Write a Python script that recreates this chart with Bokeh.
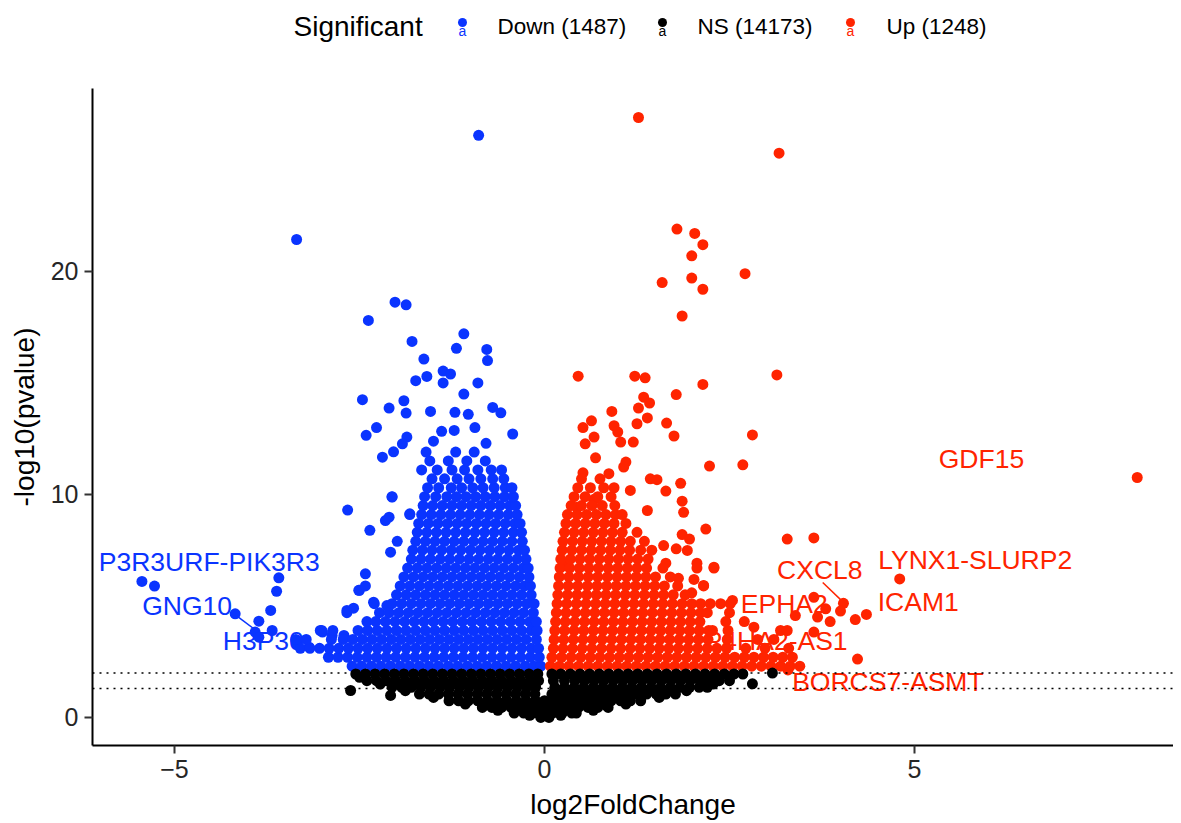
from bokeh.plotting import figure
from bokeh.layouts import column
from bokeh.models import FixedTicker, Range1d, Span
from bokeh.core.properties import value
from bokeh.embed import file_html
from bokeh.resources import INLINE

FONT = "Liberation Sans"
BLUE = "#0A34FF"
RED = "#FF2400"
BLACK = "#000000"

# ---------------- data ----------------
groups = ["Down", "NS", "Up"]
group_counts = [1487, 14173, 1248]
group_colors = [BLUE, BLACK, RED]

thresholds = [1.30103, 2.0]

x_ticks = [-5, 0, 5]
y_ticks = [0, 10, 20]

# isolated "Down" genes
down_sparse_x = [-0.89, -3.35, -2.02, -1.87, -2.38, -1.09, -1.79, -1.19, -0.78, -0.77, -1.63, -1.37,
                 -1.27, -1.59, -1.74, -1.37, -0.90, -1.09, -2.46, -1.90, -2.10, -1.87, -1.54, -1.21,
                 -1.03, -0.70, -0.59, -2.27, -2.41, -0.94, -1.22, -1.39, -1.86, -0.43, -0.79, -1.92,
                 -1.50, -2.19, -2.04, -2.66, -2.36, -2.06, -2.10, -1.82, -2.42, -2.50, -2.67, -3.03,
                 -5.44, -5.27, -3.59, -3.62, -3.70, -4.18, -3.86, -3.91, -3.68, -3.86, -3.34, -3.18,
                 -3.00, -2.87, -2.71, -2.58, -2.51, -2.31, -2.13, -2.08, -2.15]
down_sparse_y = [26.1, 21.43, 18.62, 18.5, 17.8, 17.2, 16.86, 16.55, 16.5, 16.0, 16.07, 15.53,
                 15.4, 15.29, 15.1, 15.0, 15.0, 14.5, 14.25, 14.2, 13.87, 13.65, 13.72, 13.68,
                 13.59, 13.9, 13.66, 13.0, 12.65, 13.0, 12.87, 12.83, 12.57, 12.71, 12.29, 12.27,
                 12.39, 11.67, 11.91, 9.3, 8.39, 9.88, 8.98, 9.13, 6.44, 5.7, 4.8, 3.9,
                 6.1, 5.89, 6.26, 5.66, 4.8, 4.65, 4.32, 3.83, 3.9, 3.6, 3.3, 3.15,
                 3.83, 3.68, 3.68, 4.9, 5.7, 5.17, 5.02, 7.41, 8.83]

# dense "Down" cloud, one row per -log10(p) level
down_rows = [
    (2.3, [-2.60, -2.47, -2.34, -2.21, -2.08, -1.95, -1.82, -1.69, -1.56, -1.43, -1.30, -1.17, -1.04, -0.91, -0.78, -0.65, -0.52, -0.39, -0.26, -0.14, -0.05]),
    (2.7, [-2.92, -2.79, -2.66, -2.53, -2.40, -2.27, -2.14, -2.01, -1.88, -1.75, -1.62, -1.49, -1.36, -1.23, -1.10, -0.97, -0.84, -0.71, -0.58, -0.45, -0.32, -0.19, -0.07]),
    (3.1, [-3.30, -3.17, -3.04, -2.91, -2.78, -2.65, -2.52, -2.39, -2.26, -2.13, -2.00, -1.87, -1.74, -1.61, -1.48, -1.35, -1.22, -1.09, -0.96, -0.83, -0.70, -0.57, -0.44, -0.31, -0.18, -0.08]),
    (3.5, [-3.36, -3.22, -2.88, -2.72, -2.59, -2.46, -2.33, -2.20, -2.07, -1.94, -1.81, -1.68, -1.55, -1.42, -1.29, -1.16, -1.03, -0.90, -0.77, -0.64, -0.51, -0.38, -0.25, -0.11]),
    (3.9, [-3.01, -2.86, -2.52, -2.39, -2.26, -2.13, -2.00, -1.87, -1.74, -1.61, -1.48, -1.35, -1.22, -1.09, -0.96, -0.83, -0.70, -0.57, -0.44, -0.31, -0.18, -0.10]),
    (4.3, [-2.40, -2.28, -2.15, -2.02, -1.89, -1.76, -1.63, -1.50, -1.37, -1.24, -1.11, -0.98, -0.85, -0.72, -0.59, -0.46, -0.33, -0.20, -0.11]),
    (4.7, [-2.67, -2.23, -2.10, -1.97, -1.84, -1.71, -1.58, -1.45, -1.32, -1.19, -1.06, -0.93, -0.80, -0.67, -0.54, -0.41, -0.28, -0.15]),
    (5.1, [-2.30, -2.06, -1.93, -1.80, -1.67, -1.54, -1.41, -1.28, -1.15, -1.02, -0.89, -0.76, -0.63, -0.50, -0.37, -0.24, -0.14]),
    (5.5, [-2.00, -1.87, -1.74, -1.61, -1.48, -1.35, -1.22, -1.09, -0.96, -0.83, -0.70, -0.57, -0.44, -0.31, -0.18]),
    (5.9, [-2.42, -1.95, -1.82, -1.69, -1.56, -1.43, -1.30, -1.17, -1.04, -0.91, -0.78, -0.65, -0.52, -0.39, -0.27, -0.19]),
    (6.3, [-1.90, -1.77, -1.64, -1.51, -1.38, -1.25, -1.12, -0.99, -0.86, -0.73, -0.60, -0.47, -0.34, -0.21]),
    (6.7, [-1.85, -1.72, -1.59, -1.46, -1.33, -1.20, -1.07, -0.94, -0.81, -0.68, -0.55, -0.42, -0.29, -0.22]),
    (7.1, [-1.80, -1.67, -1.54, -1.41, -1.28, -1.15, -1.02, -0.89, -0.76, -0.63, -0.50, -0.37, -0.25]),
    (7.5, [-1.78, -1.65, -1.52, -1.39, -1.26, -1.13, -1.00, -0.87, -0.74, -0.61, -0.48, -0.35, -0.27]),
    (7.9, [-1.99, -1.74, -1.61, -1.48, -1.35, -1.22, -1.09, -0.96, -0.83, -0.70, -0.57, -0.44, -0.30]),
    (8.3, [-1.72, -1.59, -1.46, -1.33, -1.20, -1.07, -0.94, -0.81, -0.68, -0.55, -0.42, -0.31]),
    (8.7, [-1.70, -1.57, -1.44, -1.31, -1.18, -1.05, -0.92, -0.79, -0.66, -0.53, -0.40, -0.33]),
    (9.1, [-1.82, -1.66, -1.53, -1.40, -1.27, -1.14, -1.01, -0.88, -0.75, -0.62, -0.49, -0.37]),
    (9.5, [-1.64, -1.51, -1.38, -1.25, -1.12, -0.99, -0.86, -0.73, -0.60, -0.47, -0.39]),
    (9.9, [-2.06, -1.62, -1.47, -1.32, -1.19, -1.06, -0.93, -0.80, -0.67, -0.54, -0.42]),
    (10.3, [-1.58, -1.43, -1.26, -1.12, -0.97, -0.83, -0.68, -0.53, -0.44]),
    (10.7, [-1.52, -1.35, -1.18, -1.02, -0.86, -0.70, -0.55]),
    (11.1, [-1.66, -1.45, -1.25, -1.08, -0.90, -0.72, -0.58]),
    (11.5, [-1.55, -1.30, -1.05, -0.80]),
    (11.9, [-1.60, -1.20, -0.95]),
]

# isolated "Up" genes
up_sparse_x = [1.27, 3.17, 1.79, 2.03, 2.14, 1.99, 1.99, 1.59, 2.71, 2.14, 1.86, 0.455, 1.22, 1.36,
               3.14, 2.14, 1.78, 1.34, 1.42, 1.27, 0.91, 1.39, 0.635, 0.52, 0.94, 1.25, 1.65, 0.67,
               0.99, 1.75, 2.81, 0.55, 1.03, 1.20, 0.69, 1.10, 2.23, 2.68, 0.52, 0.87, 1.07, 1.43,
               1.52, 1.84, 1.64, 0.94, 1.16, 0.67, 1.86, 1.88, 1.39, 0.44, 2.18, 1.86, 1.96, 3.28,
               3.64, 1.61, 1.78, 1.93, 1.64, 2.06, 2.29, 0.26, 1.81, 2.02, 2.15, 1.99, 3.39, 3.64,
               4.80, 4.04, 3.80, 3.69, 3.86, 4.00, 4.20, 4.35, 2.54, 2.83, 3.19, 3.64, 4.23, 3.29,
               8.01, 2.27]
up_sparse_y = [26.9, 25.3, 21.9, 21.7, 21.2, 20.7, 19.7, 19.5, 19.9, 19.2, 18.0, 15.3, 15.3, 15.23,
               15.36, 14.93, 14.48, 14.36, 14.1, 13.87, 13.72, 13.43, 13.3, 13.0, 13.08, 13.17, 13.2, 12.57,
               12.8, 12.62, 12.67, 12.27, 12.35, 12.35, 11.64, 11.45, 11.27, 11.33, 10.97, 10.93, 11.23, 10.7,
               10.66, 10.5, 10.15, 10.3, 10.18, 9.78, 9.7, 9.2, 9.28, 9.43, 8.45, 8.2, 8.0, 8.0,
               8.05, 7.71, 7.56, 7.49, 6.92, 6.92, 6.74, 6.8, 6.24, 6.19, 5.92, 5.59, 4.57, 5.39,
               6.21, 5.12, 4.87, 4.5, 4.3, 4.77, 4.39, 4.62, 5.25, 4.05, 3.9, 3.83, 2.62, 2.13,
               10.76, 3.9]

# dense "Up" cloud
up_rows = [
    (2.3, [0.08, 0.20, 0.33, 0.46, 0.59, 0.72, 0.85, 0.98, 1.11, 1.24, 1.37, 1.50, 1.63, 1.76, 1.89, 2.02, 2.15, 2.28, 2.41, 2.54, 2.67, 2.80, 2.93, 3.06, 3.19, 3.32, 3.45]),
    (2.7, [0.10, 0.23, 0.36, 0.49, 0.62, 0.75, 0.88, 1.01, 1.14, 1.27, 1.40, 1.53, 1.66, 1.79, 1.92, 2.05, 2.18, 2.31, 2.44, 2.57, 2.70, 2.83, 2.96, 3.09, 3.22, 3.35]),
    (3.1, [0.12, 0.25, 0.38, 0.51, 0.64, 0.77, 0.90, 1.03, 1.16, 1.29, 1.42, 1.55, 1.68, 1.81, 1.94, 2.07, 2.20, 2.33, 2.46, 2.72, 2.98, 3.30]),
    (3.5, [0.13, 0.26, 0.39, 0.52, 0.65, 0.78, 0.91, 1.04, 1.17, 1.30, 1.43, 1.56, 1.69, 1.82, 1.95, 2.08, 2.21, 2.47, 2.88, 3.10]),
    (3.9, [0.14, 0.27, 0.40, 0.53, 0.66, 0.79, 0.92, 1.05, 1.18, 1.31, 1.44, 1.57, 1.70, 1.83, 1.96, 2.09, 2.22, 2.48, 3.28]),
    (4.3, [0.15, 0.28, 0.41, 0.54, 0.67, 0.80, 0.93, 1.06, 1.19, 1.32, 1.45, 1.58, 1.71, 1.84, 1.97, 2.10, 2.45, 2.70]),
    (4.7, [0.16, 0.29, 0.42, 0.55, 0.68, 0.81, 0.94, 1.07, 1.20, 1.33, 1.46, 1.59, 1.72, 1.85, 1.98, 2.11, 2.20, 2.50]),
    (5.1, [0.17, 0.30, 0.43, 0.56, 0.69, 0.82, 0.95, 1.08, 1.21, 1.34, 1.47, 1.60, 1.73, 1.86, 1.99, 2.11, 2.24, 2.38, 2.51]),
    (5.5, [0.18, 0.31, 0.44, 0.57, 0.70, 0.83, 0.96, 1.09, 1.22, 1.35, 1.48, 1.61, 1.74, 1.90]),
    (5.9, [0.19, 0.32, 0.45, 0.58, 0.71, 0.84, 0.97, 1.10, 1.23, 1.36, 1.49, 1.62, 1.80, 2.15]),
    (6.3, [0.20, 0.33, 0.46, 0.59, 0.72, 0.85, 0.98, 1.11, 1.24, 1.37, 1.50, 1.70]),
    (6.7, [0.21, 0.34, 0.47, 0.60, 0.73, 0.86, 0.99, 1.12, 1.25, 1.38, 1.60, 2.06, 2.29]),
    (7.1, [0.22, 0.35, 0.48, 0.61, 0.74, 0.87, 1.00, 1.13, 1.26, 1.40]),
    (7.5, [0.24, 0.37, 0.50, 0.63, 0.76, 0.89, 1.02, 1.15, 1.30, 1.45]),
    (7.9, [0.25, 0.38, 0.51, 0.64, 0.77, 0.90, 1.03, 1.16, 1.35]),
    (8.3, [0.27, 0.40, 0.53, 0.66, 0.79, 0.92, 1.05, 1.25]),
    (8.7, [0.29, 0.42, 0.55, 0.68, 0.81, 0.94, 1.10]),
    (9.1, [0.31, 0.44, 0.57, 0.70, 0.83, 0.96, 1.05]),
    (9.5, [0.36, 0.50, 0.64, 0.78, 0.95]),
    (9.9, [0.40, 0.55, 0.72, 0.90]),
    (10.3, [0.45, 0.62, 0.80]),
    (10.7, [0.50, 0.75]),
]

# non-significant genes
ns_sparse_x = [-2.62, -2.08, 2.81, 3.08, -2.50, 2.50, -2.22, 2.28, -1.88, 1.92, -1.50, 1.55, -1.07, 1.10, -0.63, 0.66, -0.20, 0.22]
ns_sparse_y = [1.21, 0.99, 1.51, 1.99, 1.80, 1.80, 1.50, 1.50, 1.20, 1.20, 0.90, 0.90, 0.60, 0.60, 0.32, 0.32, 0.10, 0.10]
ns_rows = [
    (1.95, [-2.55, -2.42, -2.29, -2.16, -2.03, -1.90, -1.77, -1.64, -1.51, -1.38, -1.25, -1.12, -0.99, -0.86, -0.73, -0.60, -0.47, -0.34, -0.21, -0.09, 0.10, 0.22, 0.35, 0.48, 0.61, 0.74, 0.87, 1.00, 1.13, 1.26, 1.39, 1.52, 1.65, 1.78, 1.91, 2.04, 2.17, 2.30, 2.43, 2.56, 2.68]),
    (1.65, [-2.40, -2.27, -2.14, -2.01, -1.88, -1.75, -1.62, -1.49, -1.36, -1.23, -1.10, -0.97, -0.84, -0.71, -0.58, -0.45, -0.32, -0.19, -0.08, 0.12, 0.27, 0.41, 0.54, 0.67, 0.80, 0.93, 1.06, 1.19, 1.32, 1.45, 1.58, 1.71, 1.84, 1.97, 2.10, 2.23, 2.36, 2.50]),
    (1.35, [-2.06, -1.93, -1.80, -1.67, -1.54, -1.41, -1.28, -1.15, -1.02, -0.89, -0.76, -0.63, -0.50, -0.37, -0.24, -0.12, 0.14, 0.27, 0.40, 0.53, 0.66, 0.79, 0.92, 1.05, 1.18, 1.31, 1.44, 1.57, 1.70, 1.83, 1.96, 2.09, 2.20]),
    (1.05, [-1.69, -1.56, -1.43, -1.30, -1.17, -1.04, -0.91, -0.78, -0.65, -0.52, -0.39, -0.26, -0.13, 0.10, 0.21, 0.34, 0.47, 0.60, 0.73, 0.86, 0.99, 1.12, 1.25, 1.38, 1.51, 1.64, 1.77]),
    (0.75, [-1.29, -1.16, -1.03, -0.90, -0.77, -0.64, -0.51, -0.38, -0.25, -0.12, 0.00, 0.12, 0.25, 0.38, 0.51, 0.64, 0.77, 0.90, 1.03, 1.16, 1.30]),
    (0.45, [-0.84, -0.71, -0.58, -0.45, -0.32, -0.19, -0.06, 0.07, 0.20, 0.33, 0.46, 0.59, 0.72, 0.86]),
    (0.2, [-0.41, -0.28, -0.15, -0.02, 0.11, 0.24, 0.37, 0.43]),
    (0.0, [-0.05, 0.06]),
]

# labelled genes
label_names = ["GDF15", "LYNX1-SLURP2", "CXCL8", "ICAM1", "EPHA2", "P4HA2-AS1", "BORCS7-ASMT",
               "P3R3URF-PIK3R3", "GNG10", "H3P30"]
label_x = [5.905, 5.82, 3.72, 5.05, 3.24, 3.13, 4.64, -4.53, -4.83, -3.80]
label_y = [11.61, 7.04, 6.59, 5.20, 5.11, 3.45, 1.61, 6.96, 4.98, 3.42]
label_group = ["Up", "Up", "Up", "Up", "Up", "Up", "Up", "Down", "Down", "Down"]

# repel leader segments
seg_x0 = [3.76, -4.20]
seg_y0 = [6.05, 4.66]
seg_x1 = [4.04, -3.86]
seg_y1 = [5.16, 3.81]
seg_group = ["Up", "Down"]


def flatten(rows, sx, sy):
    xs, ys = list(sx), list(sy)
    for yv, row in rows:
        xs.extend(row)
        ys.extend([yv] * len(row))
    return xs, ys


down_x, down_y = flatten(down_rows, down_sparse_x, down_sparse_y)
up_x, up_y = flatten(up_rows, up_sparse_x, up_sparse_y)
ns_x, ns_y = flatten(ns_rows, ns_sparse_x, ns_sparse_y)

color_of = dict(zip(groups, group_colors))

LEFT = 92      # left border (px) shared by legend strip and plot
FRAME_W = 1081
LEG_H = 76

# ---------------- legend strip (coordinates = page pixels) ----------------
leg = figure(width=LEFT + FRAME_W, height=LEG_H,
             x_range=Range1d(LEFT, LEFT + FRAME_W), y_range=Range1d(LEG_H, 0),
             x_axis_type=None, y_axis_type=None, output_backend="svg", toolbar_location=None,
             min_border_left=LEFT, min_border_right=0, min_border_top=0, min_border_bottom=0)
leg.grid.visible = False
leg.outline_line_color = None
leg.text(x=[293], y=[26], text=["Significant"], text_font=value(FONT), text_font_size="28px",
         text_align="left", text_baseline="middle", text_color="black")
key_x = [462, 662, 850]
leg.scatter(x=key_x, y=[22, 22, 22], size=9, marker="circle", color=group_colors, line_color=None)
leg.text(x=key_x, y=[30, 30, 30], text=["a", "a", "a"], text_font=value(FONT), text_font_size="14px",
         text_align="center", text_baseline="middle", text_color=group_colors)
leg.text(x=[497, 697, 886], y=[26, 26, 26],
         text=[f"{g} ({c})" for g, c in zip(groups, group_counts)],
         text_font=value(FONT), text_font_size="22.5px", text_align="left", text_baseline="middle",
         text_color="black")

# ---------------- main plot ----------------
p = figure(frame_width=FRAME_W, frame_height=657, x_range=Range1d(-6.108, 8.5), y_range=Range1d(-1.256, 28.2),
           output_backend="svg", toolbar_location=None,
           min_border_left=LEFT, min_border_right=0, min_border_top=12, min_border_bottom=10)
p.grid.visible = False
p.outline_line_color = None
p.background_fill_color = "white"

p.xaxis.ticker = FixedTicker(ticks=x_ticks)
p.yaxis.ticker = FixedTicker(ticks=y_ticks)
p.xaxis.axis_label = "log2FoldChange"
p.yaxis.axis_label = "-log10(pvalue)"
for ax in (p.xaxis, p.yaxis):
    ax.axis_line_color = "black"
    ax.axis_line_width = 2
    ax.major_tick_line_color = "#333333"
    ax.major_tick_line_width = 2
    ax.major_tick_out = 8
    ax.major_tick_in = 0
    ax.minor_tick_line_color = None
    ax.major_label_text_font = FONT
    ax.major_label_text_font_size = "25px"
    ax.major_label_text_color = "#262626"
    ax.major_label_standoff = 6
    ax.axis_label_text_font = FONT
    ax.axis_label_text_font_size = "28px"
    ax.axis_label_text_font_style = "normal"
    ax.axis_label_text_color = "black"
    ax.axis_label_standoff = 8

# labels (under the points, as in the original)
p.text(x=label_x, y=label_y, text=label_names, text_color=[color_of[g] for g in label_group],
       text_font=value(FONT), text_font_size="26.5px", text_align="center", text_baseline="middle")
p.segment(x0=seg_x0, y0=seg_y0, x1=seg_x1, y1=seg_y1, line_color=[color_of[g] for g in seg_group],
          line_width=1.5)

p.scatter(down_x, down_y, marker="circle", size=11, color=BLUE, line_color=None)
p.scatter(up_x, up_y, marker="circle", size=11, color=RED, line_color=None)
p.scatter(ns_x, ns_y, marker="circle", size=11, color=BLACK, line_color=None)

for t in thresholds:
    p.add_layout(Span(location=t, dimension="width", line_color="black", line_width=1.5,
                      line_dash="2 5"))

layout = column(leg, p, spacing=0)
open("out.html", "w").write(file_html(layout, INLINE))
